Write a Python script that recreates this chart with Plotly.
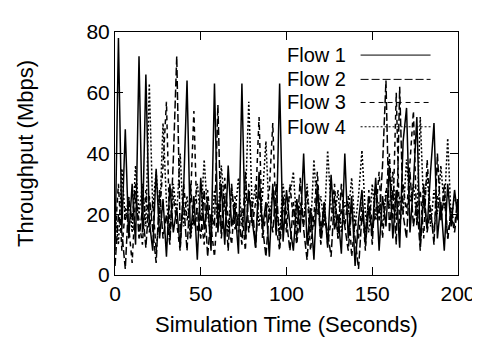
import plotly.graph_objects as go

TIME = list(range(0, 201, 2))

FLOW1 = [8, 78, 15, 48, 12, 30, 10, 72, 14, 66, 18, 8, 35, 12, 25, 6, 30, 14, 22, 9,
         28, 64, 12, 26, 5, 32, 15, 24, 8, 63, 14, 30, 10, 36, 16, 22, 7, 63, 12, 27,
         18, 9, 34, 15, 24, 6, 30, 13, 63, 11, 28, 16, 8, 25, 14, 40, 10, 22, 5, 30,
         12, 24, 9, 33, 15, 20, 7, 40, 12, 26, 3, 18, 28, 10, 22, 14, 32, 8, 26, 16,
         36, 12, 28, 9, 44, 55, 14, 30, 52, 10, 26, 15, 34, 50, 12, 24, 8, 30, 16, 28, 18]

FLOW2 = [3, 20, 14, 2, 25, 18, 30, 12, 22, 9, 26, 15, 4, 28, 12, 20, 10, 38, 72, 14,
         24, 8, 30, 16, 22, 12, 28, 6, 20, 16, 56, 12, 26, 8, 30, 15, 20, 10, 34, 14,
         24, 9, 28, 16, 6, 22, 14, 30, 10, 26, 18, 8, 24, 12, 32, 15, 5, 22, 16, 28,
         10, 20, 14, 6, 26, 12, 30, 16, 8, 22, 12, 2, 20, 14, 26, 10, 30, 18, 36, 64,
         14, 28, 10, 62, 20, 12, 34, 16, 24, 8, 30, 14, 22, 10, 40, 18, 26, 12, 20, 14, 24]

FLOW3 = [12, 30, 8, 22, 16, 4, 26, 18, 10, 28, 14, 24, 8, 20, 36, 57, 12, 26, 16, 8,
         30, 18, 24, 54, 14, 20, 10, 28, 16, 6, 24, 14, 32, 18, 10, 26, 14, 22, 8, 30,
         16, 24, 52, 12, 20, 28, 50, 16, 8, 24, 14, 30, 18, 10, 22, 16, 28, 8, 20, 34,
         14, 24, 10, 18, 30, 12, 22, 16, 26, 6, 18, 12, 24, 8, 28, 16, 20, 34, 12, 26,
         40, 18, 60, 14, 30, 20, 36, 54, 16, 28, 12, 38, 20, 14, 26, 18, 30, 12, 22, 16, 26]

FLOW4 = [20, 10, 35, 18, 26, 14, 36, 20, 30, 16, 63, 22, 34, 18, 50, 24, 14, 30, 20, 40,
         16, 26, 12, 22, 30, 18, 38, 20, 12, 28, 18, 36, 22, 14, 28, 20, 32, 16, 24, 57,
         22, 30, 16, 26, 44, 18, 28, 22, 14, 30, 20, 26, 34, 16, 24, 18, 30, 14, 38, 20,
         26, 16, 41, 22, 18, 28, 14, 24, 20, 32, 16, 26, 41, 20, 14, 30, 18, 24, 16, 28,
         22, 34, 18, 26, 20, 38, 24, 30, 18, 52, 22, 34, 16, 28, 20, 36, 22, 45, 18, 26, 22]

NAMES = ["Flow 1", "Flow 2", "Flow 3", "Flow 4"]
SERIES = [FLOW1, FLOW2, FLOW3, FLOW4]
DASHES = ["solid", "8px,3px", "5px,4px", "2px,2px"]

FONT = "Liberation Sans, Arial, Helvetica, sans-serif"

fig = go.Figure()
for name, vals, dash in zip(NAMES, SERIES, DASHES):
    fig.add_trace(go.Scatter(x=TIME, y=vals, mode="lines", name=name,
                             line=dict(color="black", width=1.5, dash=dash),
                             showlegend=False))

# gnuplot-style key: label on the left, line sample on the right
row_y = [0.905, 0.805, 0.71, 0.61]
for name, dash, yy in zip(NAMES, DASHES, row_y):
    fig.add_annotation(xref="paper", yref="paper", x=0.68, y=yy, text=name,
                       showarrow=False, xanchor="right", yanchor="middle",
                       font=dict(family=FONT, size=20, color="black"))
    fig.add_shape(type="line", xref="paper", yref="paper", x0=0.716, x1=0.92,
                  y0=yy, y1=yy, line=dict(color="black", width=1, dash=dash))

axis_common = dict(showline=True, linecolor="black", linewidth=1, mirror="ticks",
                   ticks="inside", ticklen=8, tickcolor="black", showgrid=False,
                   zeroline=False, tickfont=dict(family=FONT, size=21, color="black"))

fig.update_xaxes(range=[0, 200], tickvals=[0, 50, 100, 150, 200],
                 title=dict(text="Simulation Time (Seconds)", standoff=12,
                            font=dict(family=FONT, size=22, color="black")),
                 **axis_common)
fig.update_yaxes(range=[0, 80], tickvals=[0, 20, 40, 60, 80],
                 title=dict(text="Throughput (Mbps)", standoff=46,
                            font=dict(family=FONT, size=22, color="black")),
                 **axis_common)

fig.update_layout(width=480, height=340, margin=dict(l=107, r=24, t=19, b=73),
                  plot_bgcolor="white", paper_bgcolor="white", showlegend=False)

fig.write_html("out.html")
